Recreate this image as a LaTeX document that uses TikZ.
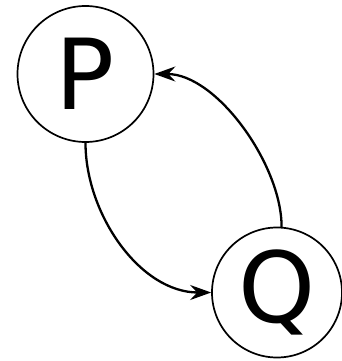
\documentclass[tikz,border=0pt]{standalone}
\usepackage{fontspec}
\setmainfont{DejaVu Sans}
\usetikzlibrary{arrows.meta}
\begin{document}
\begin{tikzpicture}[x=1pt,y=1pt,
  state/.style={circle,draw,line width=1.7pt,inner sep=0pt,font=\fontsize{98}{98}\selectfont},
  conn/.style={line width=2.3pt,-{Stealth[length=21pt,width=15pt,inset=7pt]}}]
\useasboundingbox (0,0) rectangle (342,-361);
\node[state,minimum size=136pt] (P) at (85.5,-74) {P};
\node[state,minimum size=130pt] (Q) at (277,-292.5) {Q};
\draw[conn] (P.south) to[out=-90,in=180,looseness=0.93] (Q.west);
\draw[conn] (Q.86) to[out=90,in=0,looseness=0.8] (P.east);
\end{tikzpicture}
\end{document}
